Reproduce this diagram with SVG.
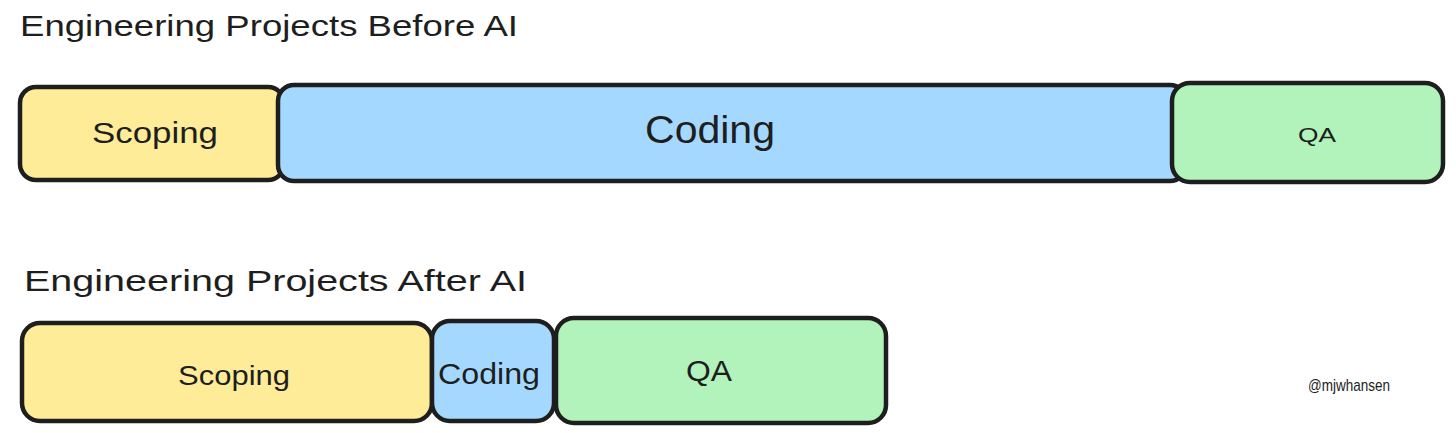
<svg xmlns="http://www.w3.org/2000/svg" width="1456" height="433" viewBox="0 0 1456 433">
<style>
.box{stroke:#1e1e1e;stroke-width:4.5;stroke-linejoin:round}
.y{fill:#ffec99}.b{fill:#a5d8ff}.g{fill:#b2f2bb}
text{font-family:"Liberation Sans","DejaVu Sans",sans-serif;fill:#1e1e1e}
.t{font-size:30px}
.l{text-anchor:middle}
</style>
<rect width="1456" height="433" fill="#ffffff"/>
<g id="title-before"><text class="t" x="20" y="36" textLength="498" lengthAdjust="spacingAndGlyphs">Engineering Projects Before AI</text></g>
<g id="title-after"><text class="t" x="24" y="291" textLength="503" lengthAdjust="spacingAndGlyphs">Engineering Projects After AI</text></g>

<g id="before-scoping">
<rect class="box y" x="20" y="87" width="264" height="93" rx="16"/>
<text class="l" x="155" y="143" font-size="30" textLength="126" lengthAdjust="spacingAndGlyphs">Scoping</text>
</g>
<g id="before-coding">
<rect class="box b" x="278" y="85" width="908" height="96" rx="16"/>
<text class="l" x="710" y="143" font-size="38" textLength="130" lengthAdjust="spacingAndGlyphs">Coding</text>
</g>
<g id="before-qa">
<rect class="box g" x="1172" y="83" width="271" height="99" rx="18"/>
<text class="l" x="1317" y="142" font-size="21" textLength="38" lengthAdjust="spacingAndGlyphs">QA</text>
</g>

<g id="after-scoping">
<rect class="box y" x="22" y="323" width="410" height="98" rx="18"/>
<text class="l" x="234" y="385" font-size="28" textLength="112" lengthAdjust="spacingAndGlyphs">Scoping</text>
</g>
<g id="after-coding">
<rect class="box b" x="432" y="321" width="122" height="100" rx="18"/>
<text class="l" x="489" y="384" font-size="29" textLength="102" lengthAdjust="spacingAndGlyphs">Coding</text>
</g>
<g id="after-qa">
<rect class="box g" x="556" y="318" width="330" height="105" rx="18"/>
<text class="l" x="709" y="381" font-size="30" textLength="46" lengthAdjust="spacingAndGlyphs">QA</text>
</g>

<g id="credit"><text x="1308" y="391" font-size="17" textLength="82" lengthAdjust="spacingAndGlyphs">@mjwhansen</text></g>
<g id="connectors"/>
</svg>
